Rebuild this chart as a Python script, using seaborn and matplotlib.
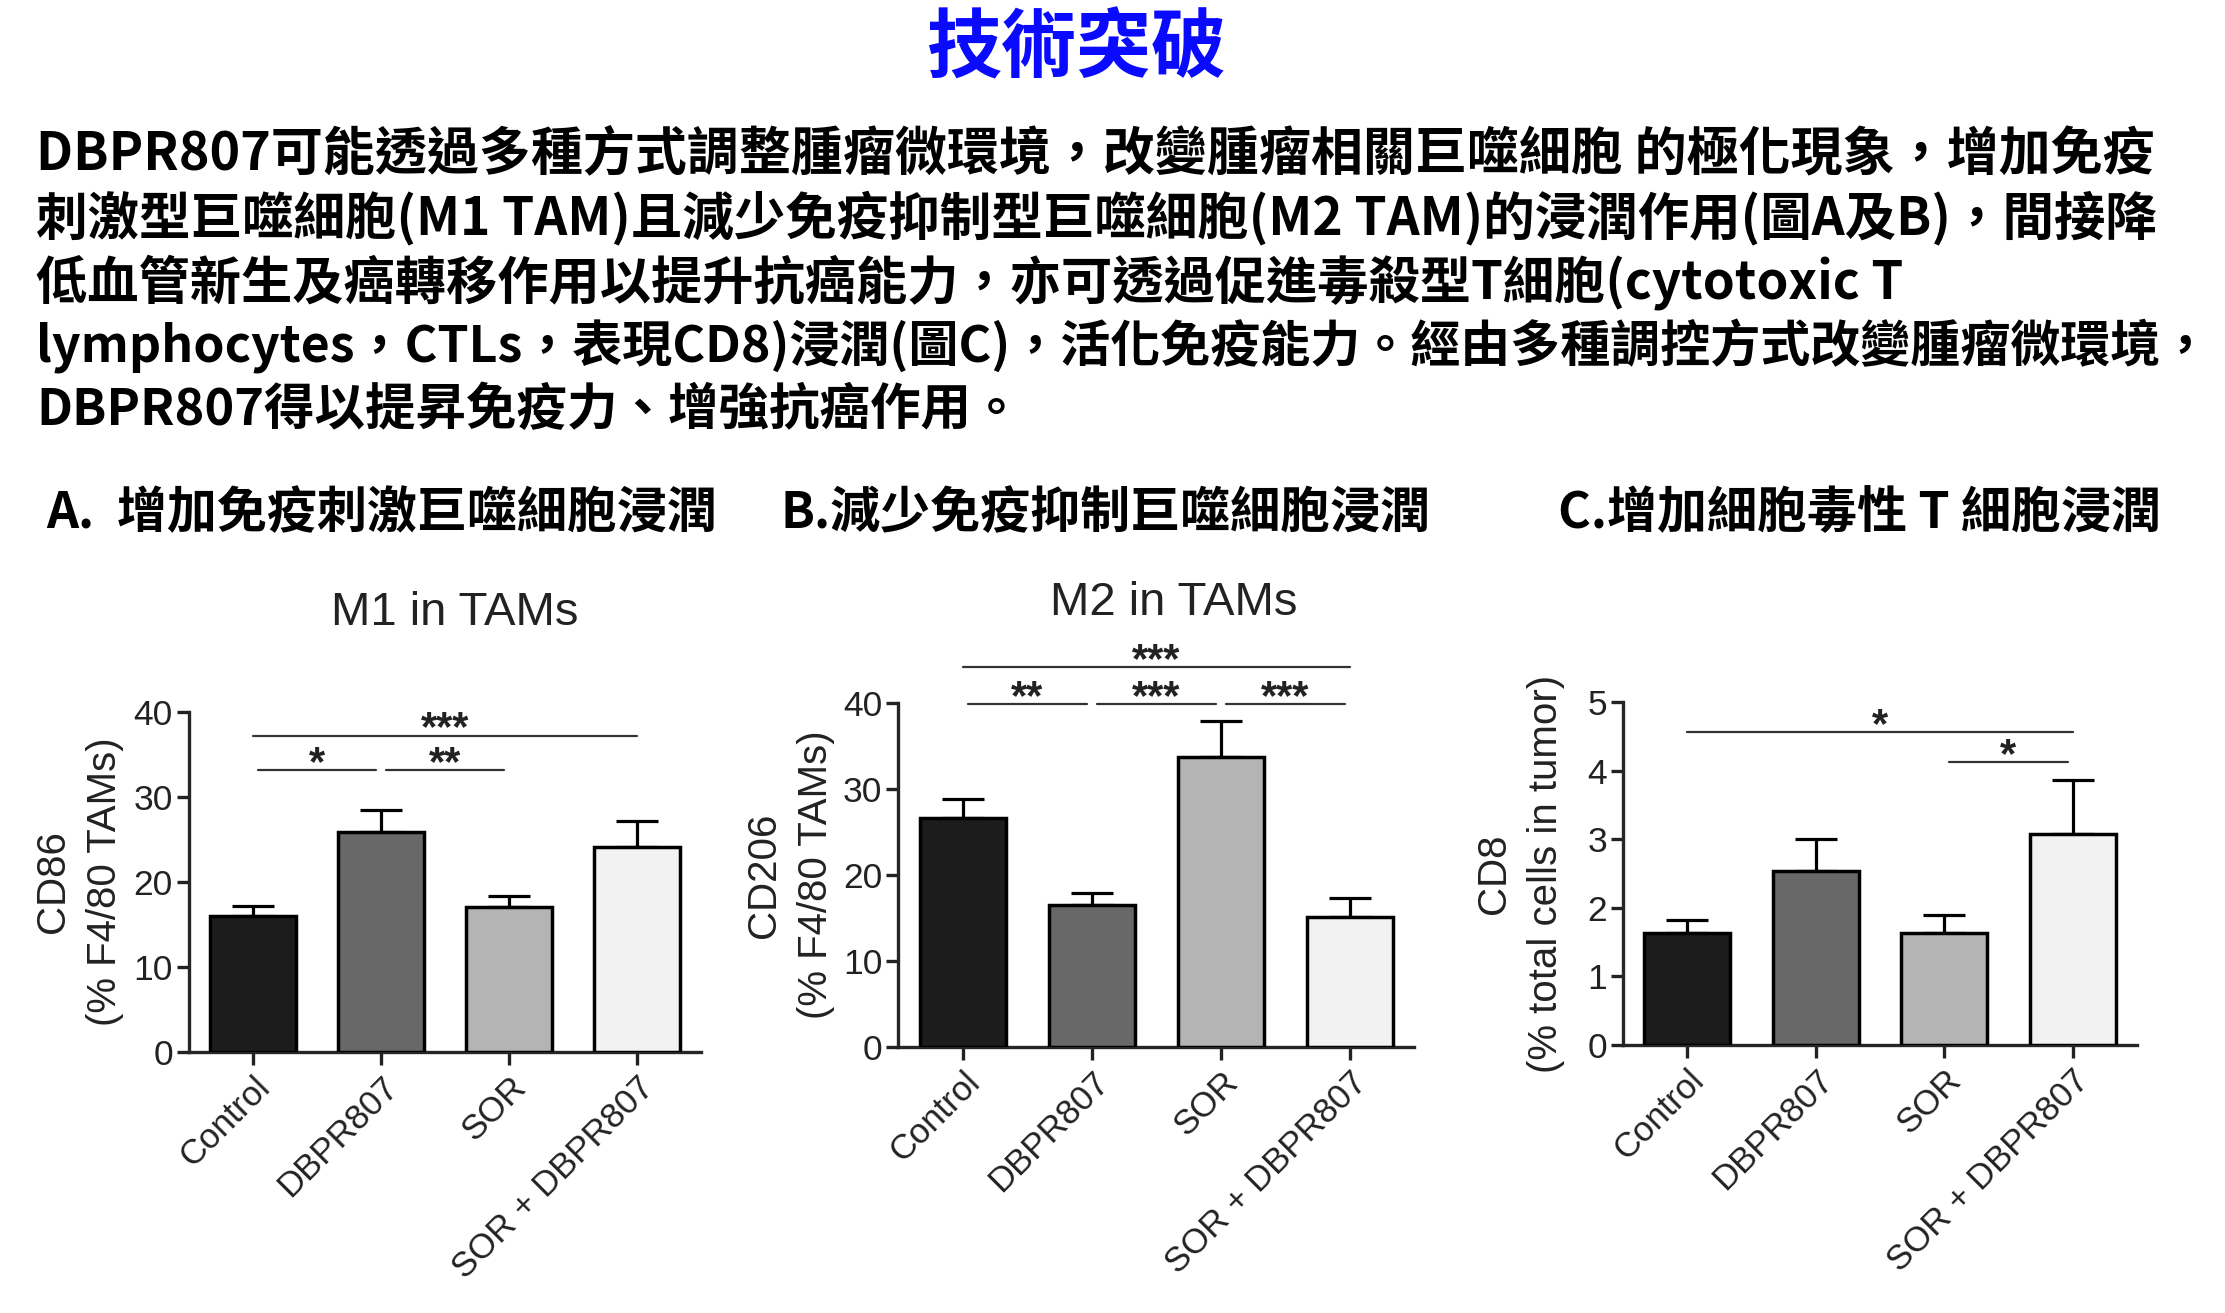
import numpy as np
import matplotlib
matplotlib.use("Agg")
import matplotlib.pyplot as plt
import seaborn as sns

sns.set_style("ticks")
plt.rcParams["font.family"] = ["Liberation Sans", "Noto Sans CJK TC", "DejaVu Sans"]
CJK = ["Noto Sans CJK TC", "DejaVu Sans"]

# ---- data ----
groups = ["Control", "DBPR807", "SOR", "SOR + DBPR807"]
bar_colors = ["#1c1c1c", "#686868", "#b4b4b4", "#f2f2f2"]

m1_mean = [16.0, 25.9, 17.1, 24.1]
m1_sem = [1.2, 2.6, 1.2, 3.1]
m2_mean = [26.6, 16.5, 33.7, 15.1]
m2_sem = [2.2, 1.4, 4.25, 2.2]
cd8_mean = [1.63, 2.54, 1.64, 3.08]
cd8_sem = [0.19, 0.46, 0.25, 0.78]

# significance brackets: (from group, to group, height, stars)
m1_sig = [(0, 1, 33.2, "*"), (1, 2, 33.2, "**"), (0, 3, 37.2, "***")]
m2_sig = [(0, 1, 39.9, "**"), (1, 2, 39.9, "***"), (2, 3, 39.9, "***"), (0, 3, 44.2, "***")]
cd8_sig = [(0, 3, 4.56, "*"), (2, 3, 4.13, "*")]

page_title = "技術突破"
paragraph = [
    "DBPR807可能透過多種方式調整腫瘤微環境，改變腫瘤相關巨噬細胞 的極化現象，增加免疫",
    "刺激型巨噬細胞(M1 TAM)且減少免疫抑制型巨噬細胞(M2 TAM)的浸潤作用(圖A及B)，間接降",
    "低血管新生及癌轉移作用以提升抗癌能力，亦可透過促進毒殺型T細胞(cytotoxic T",
    "lymphocytes，CTLs，表現CD8)浸潤(圖C)，活化免疫能力。經由多種調控方式改變腫瘤微環境，",
    "DBPR807得以提昇免疫力、增強抗癌作用。",
]
headings = ["A.  增加免疫刺激巨噬細胞浸潤", "B.減少免疫抑制巨噬細胞浸潤", "C.增加細胞毒性 T 細胞浸潤"]

W, H = 2225, 1313
fig = plt.figure(figsize=(W / 100, H / 100), dpi=100)
renderer = fig.canvas.get_renderer()

fig.text(0.484, 0.962, page_title, family=CJK, weight="bold", fontsize=54,
         color="#0a0aff", ha="center", va="center")

# paragraph: each line fitted to the width it takes in the slide
line_right_px = [2156, 2160, 1904, 2213, 1022]
x_left = 0.0162
for i, (line, right) in enumerate(zip(paragraph, line_right_px)):
    t = fig.text(x_left, 0.8827 - i * 0.0489, line, family=CJK, weight="bold",
                 fontsize=37.5, color="black", ha="left", va="center")
    w = t.get_window_extent(renderer).width
    t.set_fontsize(min(37.5, 37.5 * (right - x_left * W) / w))

for x, h in zip([0.0207, 0.3506, 0.7003], headings):
    fig.text(x, 0.609, h, family=CJK, weight="bold", fontsize=36,
             color="black", ha="left", va="center")


def panel(rect, means, sems, sig, ylim, yticks, ylabel, label_x):
    ax = fig.add_axes(rect)
    sns.barplot(x=groups, y=means, hue=groups, palette=bar_colors, legend=False,
                width=0.67, edgecolor="black", linewidth=2.5, ax=ax, zorder=3)
    ax.errorbar(range(len(groups)), means, yerr=[np.zeros(len(sems)), sems],
                fmt="none", ecolor="black", elinewidth=2.3, capsize=15,
                capthick=2.3, zorder=2)
    ax.set_ylim(*ylim)
    ax.set_yticks(yticks)
    ax.set_xlim(-0.5, 3.5)
    sns.despine(ax=ax)
    for s in ["left", "bottom"]:
        ax.spines[s].set_linewidth(2.4)
    ax.tick_params(axis="y", direction="out", length=8.5, width=2.4, color="#222222",
                   labelsize=25.5, pad=3, labelcolor="#222222")
    ax.tick_params(axis="x", direction="out", length=9.5, width=2.4, color="#222222",
                   labelsize=25, pad=4, labelcolor="#222222")
    plt.setp(ax.get_xticklabels(), rotation=45, ha="right", rotation_mode="anchor")
    ax.set_ylabel(ylabel, fontsize=29, color="#222222", va="center", linespacing=1.45)
    ax.yaxis.set_label_coords(label_x, 0.5)
    ax.set_xlabel("")
    for a, b, y, stars in sig:
        x0 = a if b - a == 3 else a + 0.04
        x1 = b if b - a == 3 else b - 0.04
        ax.plot([x0, x1], [y, y], color="#333333", lw=1.6, clip_on=False)
        ax.annotate(stars, xy=((a + b) / 2, y), xytext=(0, -3.5),
                    textcoords="offset points", ha="center", va="baseline",
                    fontsize=30, weight="bold", color="#222222",
                    annotation_clip=False)
    return ax


panel([0.0849, 0.1988, 0.2301, 0.2590], m1_mean, m1_sem, m1_sig, (0, 40),
      [0, 10, 20, 30, 40], "CD86\n(% F4/80 TAMs)", -0.215)
panel([0.4038, 0.2026, 0.2319, 0.2620], m2_mean, m2_sem, m2_sig, (0, 40),
      [0, 10, 20, 30, 40], "CD206\n(% F4/80 TAMs)", -0.21)
panel([0.7294, 0.2041, 0.2310, 0.2612], cd8_mean, cd8_sem, cd8_sig, (0, 5),
      [0, 1, 2, 3, 4, 5], "CD8\n(% total cells in tumor)", -0.2)

fig.text(0.2045, 0.533, "M1 in TAMs", fontsize=34, color="#222222", ha="center", va="center")
fig.text(0.5276, 0.5407, "M2 in TAMs", fontsize=34, color="#222222", ha="center", va="center")

fig.savefig("out.png", dpi=100, facecolor="white")
